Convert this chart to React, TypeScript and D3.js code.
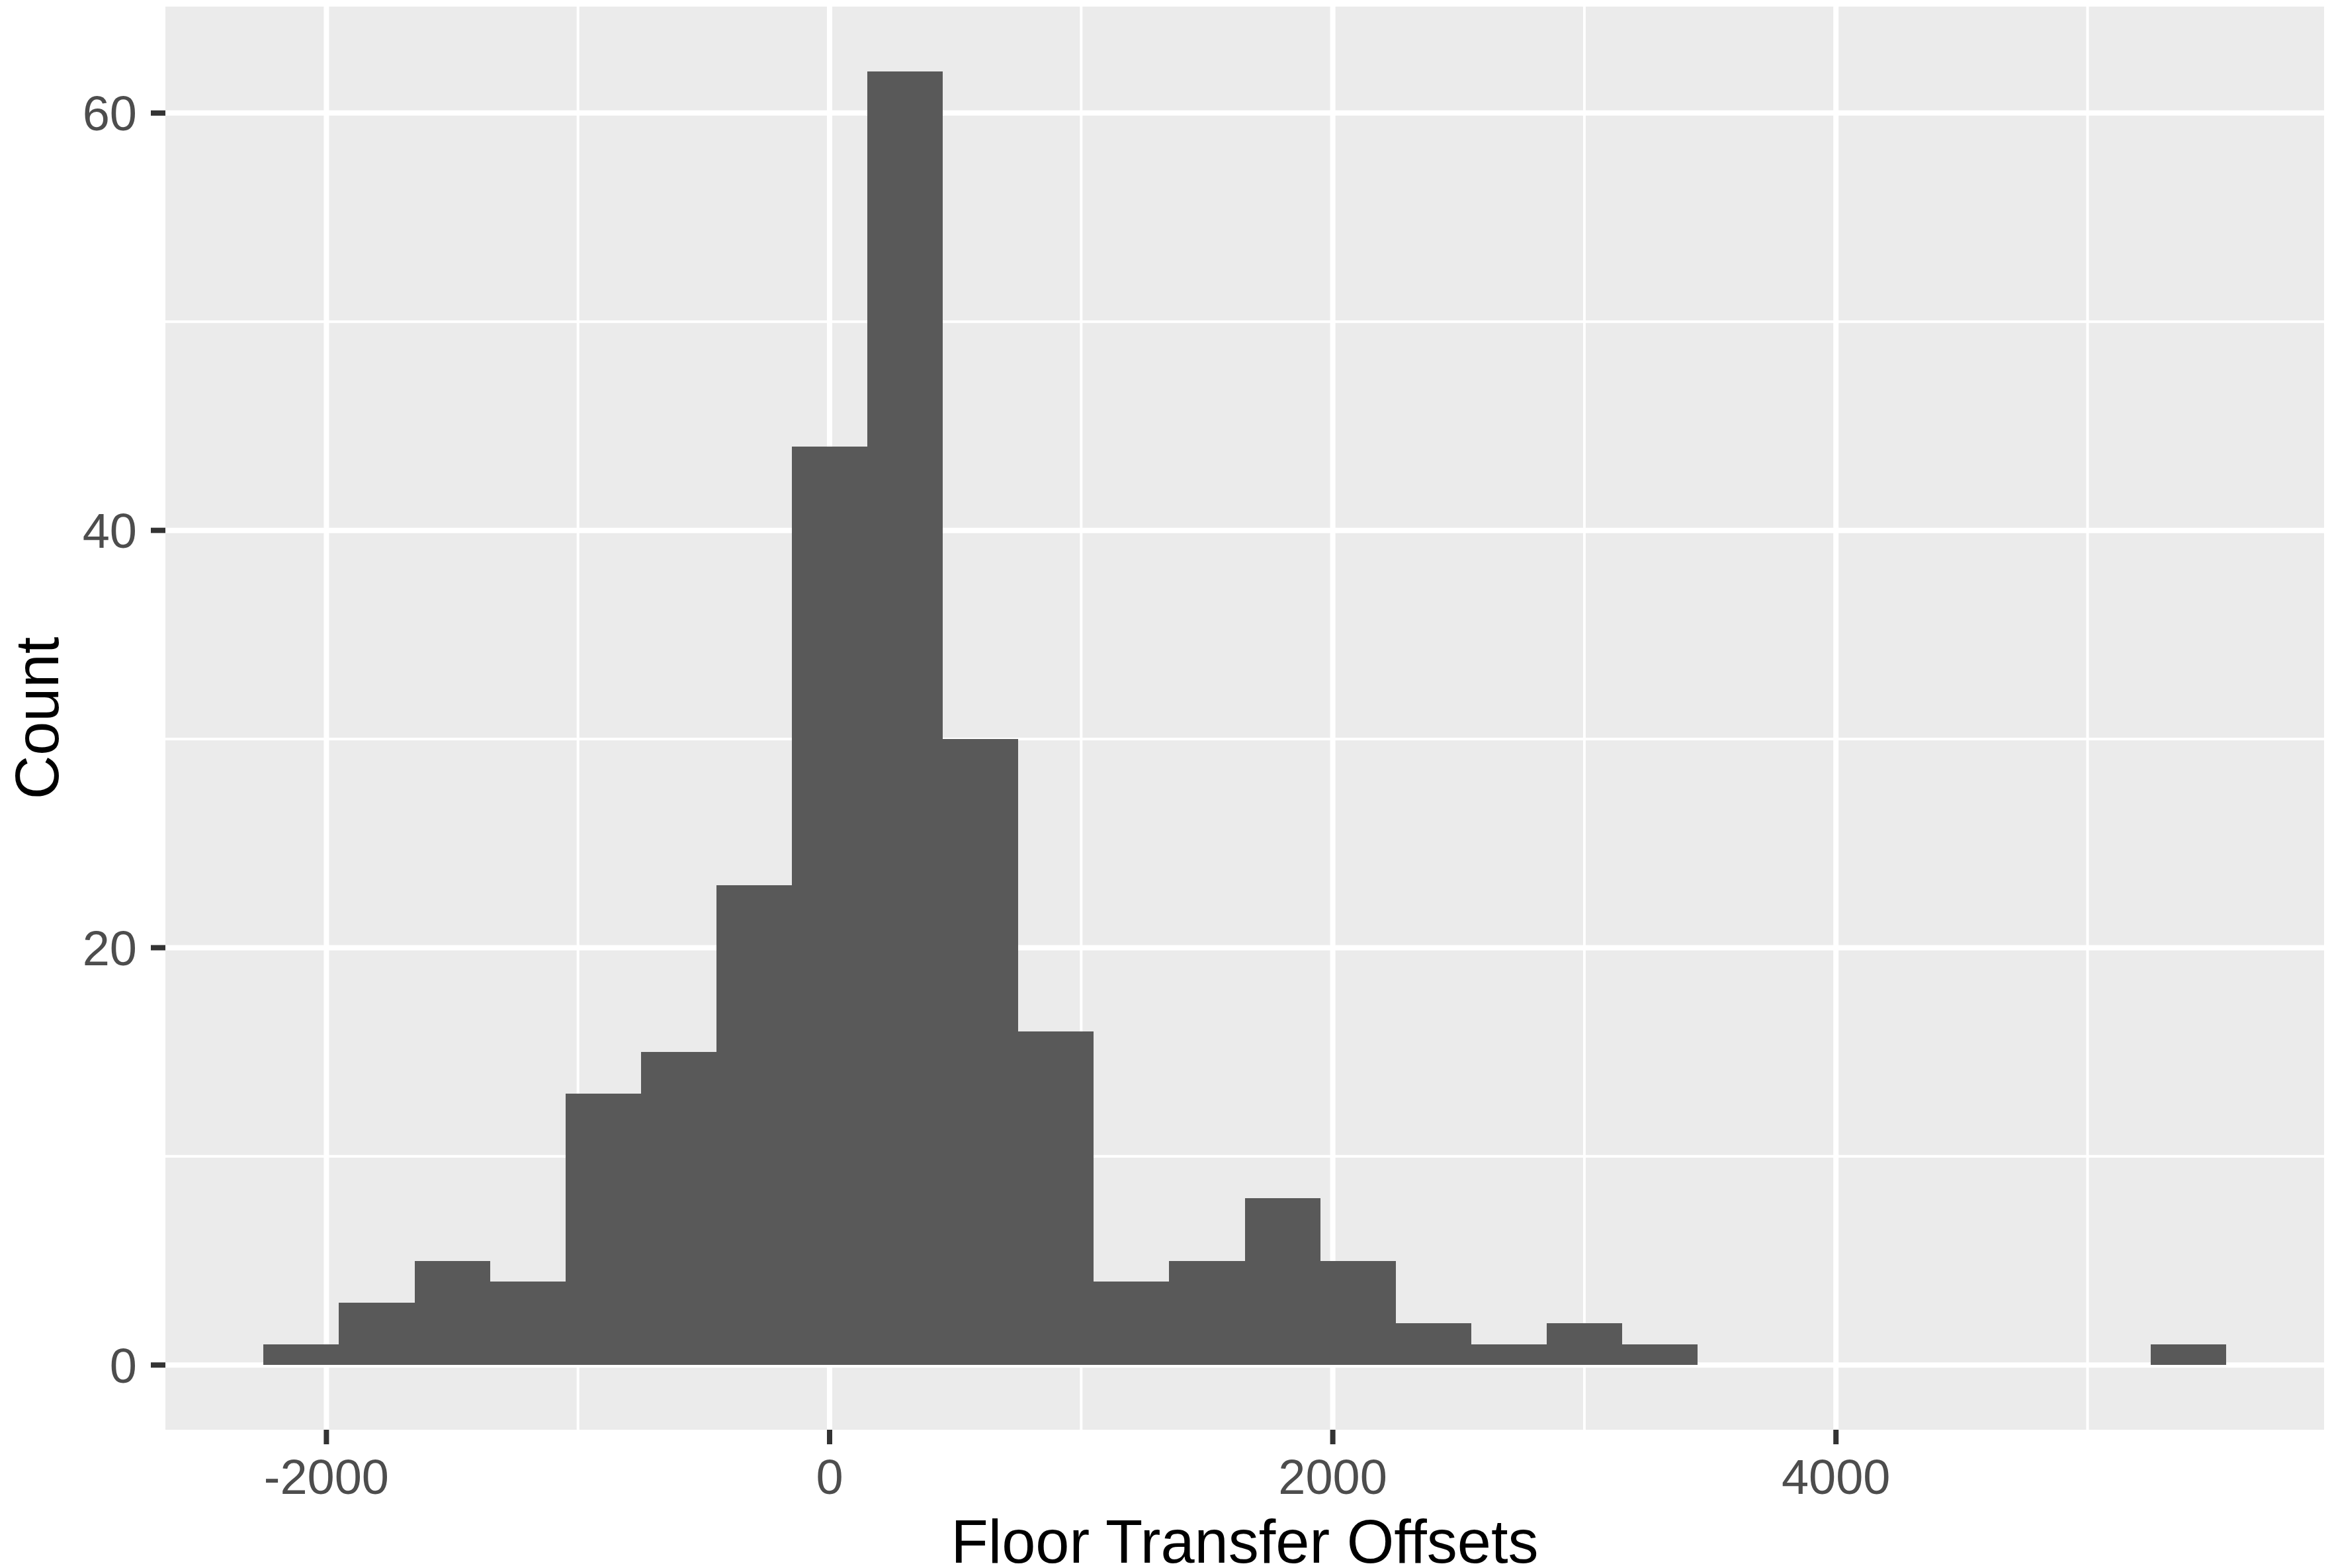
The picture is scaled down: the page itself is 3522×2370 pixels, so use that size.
import React from "react";
import * as d3 from "d3";

// histogram bins (left edge of each bin) and counts
const binStarts = [
  -2250, -1950, -1650, -1350, -1050, -750, -450, -150, 150, 450, 750, 1050,
  1350, 1650, 1950, 2250, 2550, 2850, 3150, 3450, 3750, 4050, 4350, 4650,
  4950, 5250,
];
const counts = [
  1, 3, 5, 4, 13, 15, 23, 44, 62, 30, 16, 4, 5, 8, 5, 2, 1, 2, 1, 0, 0, 0, 0,
  0, 0, 1,
];
const binWidth = 300;

const xMajor = [-2000, 0, 2000, 4000];
const xMinor = [-1000, 1000, 3000, 5000];
const yMajor = [0, 20, 40, 60];
const yMinor = [10, 30, 50];

const xTitle = "Floor Transfer Offsets";
const yTitle = "Count";

const W = 3522;
const H = 2370;
const panel = { left: 250, right: 3513, top: 10, bottom: 2161 };
const font = "'Liberation Sans', Arial, Helvetica, sans-serif";

export default function App() {
  const bins = binStarts.map((s, i) => ({ x0: s, x1: s + binWidth, n: counts[i] }));

  // ggplot-style 5% expansion on both axes
  const xLo = d3.min(bins, (d) => d.x0);
  const xHi = d3.max(bins, (d) => d.x1);
  const xPad = (xHi - xLo) * 0.05;
  const yMax = d3.max(counts);
  const yPad = yMax * 0.05;

  const x = d3
    .scaleLinear()
    .domain([xLo - xPad, xHi + xPad])
    .range([panel.left, panel.right]);
  const y = d3
    .scaleLinear()
    .domain([-yPad, yMax + yPad])
    .range([panel.bottom, panel.top]);

  const tickLen = 22;
  const tickSize = 74;
  const titleSize = 92;

  return (
    <svg
      width={W}
      height={H}
      style={{ position: "absolute", left: 0, top: 0, background: "#fff" }}
    >
      <rect
        x={panel.left}
        y={panel.top}
        width={panel.right - panel.left}
        height={panel.bottom - panel.top}
        fill="#EBEBEB"
      />
      {/* minor grid */}
      {xMinor.map((v) => (
        <line key={"xm" + v} x1={x(v)} x2={x(v)} y1={panel.top} y2={panel.bottom} stroke="#fff" strokeWidth={4} />
      ))}
      {yMinor.map((v) => (
        <line key={"ym" + v} x1={panel.left} x2={panel.right} y1={y(v)} y2={y(v)} stroke="#fff" strokeWidth={4} />
      ))}
      {/* major grid */}
      {xMajor.map((v) => (
        <line key={"xM" + v} x1={x(v)} x2={x(v)} y1={panel.top} y2={panel.bottom} stroke="#fff" strokeWidth={8} />
      ))}
      {yMajor.map((v) => (
        <line key={"yM" + v} x1={panel.left} x2={panel.right} y1={y(v)} y2={y(v)} stroke="#fff" strokeWidth={8} />
      ))}

      {/* bars */}
      <g shapeRendering="crispEdges">
        {bins
          .filter((d) => d.n > 0)
          .map((d) => (
            <rect
              key={d.x0}
              x={x(d.x0)}
              y={y(d.n)}
              width={x(d.x1) - x(d.x0)}
              height={y(0) - y(d.n)}
              fill="#595959"
            />
          ))}
      </g>

      {/* x axis */}
      {xMajor.map((v) => (
        <g key={"xt" + v}>
          <line x1={x(v)} x2={x(v)} y1={panel.bottom} y2={panel.bottom + tickLen} stroke="#333333" strokeWidth={8} />
          <text
            x={x(v)}
            y={2258}
            textAnchor="middle"
            fontFamily={font}
            fontSize={tickSize}
            fill="#4D4D4D"
          >
            {v}
          </text>
        </g>
      ))}

      {/* y axis */}
      {yMajor.map((v) => (
        <g key={"yt" + v}>
          <line x1={panel.left - tickLen} x2={panel.left} y1={y(v)} y2={y(v)} stroke="#333333" strokeWidth={8} />
          <text
            x={207}
            y={y(v) + tickSize * 0.358}
            textAnchor="end"
            fontFamily={font}
            fontSize={tickSize}
            fill="#4D4D4D"
          >
            {v}
          </text>
        </g>
      ))}

      <text
        x={(panel.left + panel.right) / 2}
        y={2362}
        textAnchor="middle"
        fontFamily={font}
        fontSize={titleSize}
        fill="#000"
      >
        {xTitle}
      </text>
      <text
        transform={`translate(88,${(panel.top + panel.bottom) / 2}) rotate(-90)`}
        textAnchor="middle"
        fontFamily={font}
        fontSize={titleSize}
        fill="#000"
      >
        {yTitle}
      </text>
    </svg>
  );
}
